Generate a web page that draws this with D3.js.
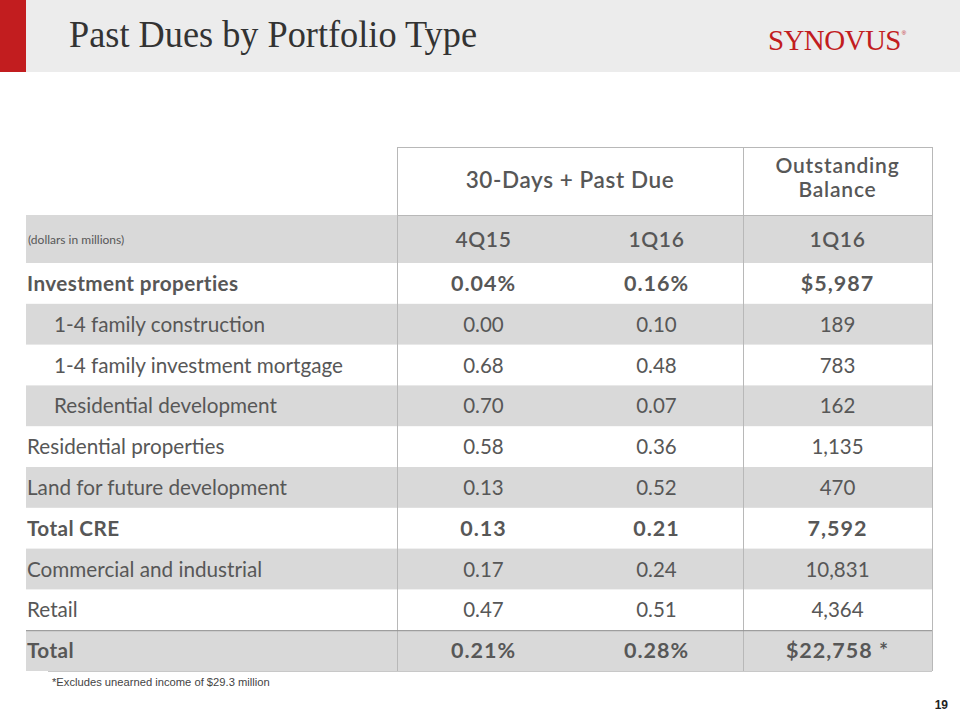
<!DOCTYPE html>
<html>
<head>
<meta charset="utf-8">
<script src="https://cdn.jsdelivr.net/npm/d3@7"></script>
<style>
  html, body { margin: 0; padding: 0; background: #fff; }
  svg { display: block; }
</style>
</head>
<body>
<div id="chart"></div>
<script>
// ---------- data ----------
const title = "Past Dues by Portfolio Type";
const groupHeaders = ["30-Days + Past Due", "Outstanding Balance"];
const periodLabels = ["4Q15", "1Q16", "1Q16"];
const unitsNote = "(dollars in millions)";
const categories = [
  "Investment properties",
  "1-4 family construction",
  "1-4 family investment mortgage",
  "Residential development",
  "Residential properties",
  "Land for future development",
  "Total CRE",
  "Commercial and industrial",
  "Retail",
  "Total"
];
const pastDue4Q15 = [0.04, 0.00, 0.68, 0.70, 0.58, 0.13, 0.13, 0.17, 0.47, 0.21];
const pastDue1Q16 = [0.16, 0.10, 0.48, 0.07, 0.36, 0.52, 0.21, 0.24, 0.51, 0.28];
const balance1Q16 = [5987, 189, 783, 162, 1135, 470, 7592, 10831, 4364, 22758];
const boldRows = ["Investment properties", "Total CRE", "Total"];
const indentedRows = ["1-4 family construction", "1-4 family investment mortgage", "Residential development"];
const shadedRows = ["1-4 family construction", "Residential development", "Land for future development", "Commercial and industrial", "Total"];
const percentRows = ["Investment properties", "Total"];
const footnote = "*Excludes unearned income of $29.3 million";
const pageNumber = "19";

// ---------- layout ----------
const W = 960, H = 720;
const svg = d3.select("#chart").append("svg").attr("width", W).attr("height", H);

const textCol = "#575757";
const gridCol = "#b8b8b8";
const shade = "#d9d9d9";
const sans = "Lato, 'Open Sans', sans-serif";

// header band
svg.append("rect").attr("x", 0).attr("y", 0).attr("width", W).attr("height", 72).attr("fill", "#ececec");
svg.append("rect").attr("x", 0).attr("y", 0).attr("width", 26).attr("height", 72).attr("fill", "#c21d1f");
svg.append("text").attr("x", 69).attr("y", 47)
  .attr("font-family", "'Liberation Serif', 'DejaVu Serif', serif")
  .attr("font-size", 37).attr("fill", "#333")
  .attr("textLength", 408).attr("lengthAdjust", "spacingAndGlyphs")
  .text(title);
const logo = svg.append("text").attr("x", 768).attr("y", 50)
  .attr("font-family", "'Liberation Serif', serif")
  .attr("font-size", 29).attr("fill", "#c21d1f");
logo.append("tspan").attr("letter-spacing", -0.6).text("SYNOVUS");
logo.append("tspan").attr("font-size", 6).attr("dx", 1).attr("dy", -15)
  .attr("font-family", "Arial, sans-serif").text("®");

// scales
const tableLeft = 26, tableRight = 932;
const valueCols = ["4Q15", "1Q16", "bal"];
const band = d3.scaleBand().domain(["4Q15", "1Q16"]).range([397, 743]);
const cx = c => c === "bal" ? (743 + tableRight) / 2 : band(c) + band.bandwidth() / 2;

const y = d3.scaleBand().domain(categories).range([263, 671]);

const headerTop = 147, headerBottom = 215, subBottom = 263;

svg.append("rect").attr("x", tableLeft).attr("y", headerBottom)
  .attr("width", tableRight - tableLeft).attr("height", subBottom - headerBottom).attr("fill", shade);

svg.selectAll("rect.row").data(categories.filter(c => shadedRows.includes(c))).join("rect")
  .attr("class", "row")
  .attr("x", tableLeft).attr("y", d => y(d))
  .attr("width", tableRight - tableLeft).attr("height", y.bandwidth())
  .attr("fill", shade);

// grid lines
const g = svg.append("g").attr("stroke", gridCol).attr("stroke-width", 1).attr("fill", "none");
g.append("line").attr("x1", 397).attr("x2", tableRight).attr("y1", headerTop + 0.5).attr("y2", headerTop + 0.5);
g.append("line").attr("x1", 397).attr("x2", tableRight).attr("y1", headerBottom + 0.5).attr("y2", headerBottom + 0.5);
[397, 743, tableRight].forEach(x => {
  g.append("line").attr("x1", x + 0.5).attr("x2", x + 0.5).attr("y1", headerTop).attr("y2", 671);
});
g.append("line").attr("x1", tableLeft).attr("x2", tableRight)
  .attr("y1", y("Total") + 0.5).attr("y2", y("Total") + 0.5).attr("stroke", "#8f8f8f");
g.append("line").attr("x1", 48).attr("x2", tableRight)
  .attr("y1", 671.5).attr("y2", 671.5).attr("stroke", "#c8c8c8");

// group headers
svg.append("text").attr("x", (397 + 743) / 2).attr("y", 188).attr("text-anchor", "middle")
  .attr("font-family", sans).attr("font-weight", 600).attr("font-size", 22.5)
  .attr("letter-spacing", 0.6).attr("fill", textCol)
  .text(groupHeaders[0]);
const ob = svg.append("text").attr("text-anchor", "middle")
  .attr("font-family", sans).attr("font-weight", 600).attr("font-size", 21)
  .attr("letter-spacing", 0.8).attr("fill", textCol);
ob.selectAll("tspan").data(groupHeaders[1].split(" ")).join("tspan")
  .attr("x", (743 + tableRight) / 2).attr("y", (d, i) => 173 + i * 24).text(d => d);

// subheader
svg.append("text").attr("x", 28).attr("y", 244)
  .attr("font-family", sans).attr("font-size", 12).attr("fill", textCol).text(unitsNote);
svg.selectAll("text.period").data(valueCols).join("text")
  .attr("class", "period")
  .attr("x", d => cx(d)).attr("y", 247).attr("text-anchor", "middle")
  .attr("font-family", sans).attr("font-weight", 600).attr("font-size", 21)
  .attr("letter-spacing", 0.6).attr("fill", textCol)
  .text((d, i) => periodLabels[i]);

// rows
const fmt2 = d3.format(".2f");
const fmtC = d3.format(",");
const rows = categories.map((c, i) => ({
  c,
  bold: boldRows.includes(c),
  vals: [
    fmt2(pastDue4Q15[i]) + (percentRows.includes(c) ? "%" : ""),
    fmt2(pastDue1Q16[i]) + (percentRows.includes(c) ? "%" : ""),
    (percentRows.includes(c) ? "$" : "") + fmtC(balance1Q16[i]) + (c === "Total" ? " *" : "")
  ]
}));

svg.selectAll("text.label").data(rows).join("text")
  .attr("class", "label")
  .attr("x", d => indentedRows.includes(d.c) ? 54 : 27)
  .attr("y", d => y(d.c) + y.bandwidth() / 2 + 7.5)
  .attr("font-family", sans).attr("font-size", 20.7)
  .attr("font-weight", d => d.bold ? 700 : 400)
  .attr("letter-spacing", d => d.bold ? 0.4 : 0)
  .attr("fill", textCol)
  .text(d => d.c);

valueCols.forEach((col, k) => {
  svg.selectAll("text.v" + k).data(rows).join("text")
    .attr("class", "v" + k)
    .attr("x", cx(col))
    .attr("y", d => y(d.c) + y.bandwidth() / 2 + 7.5)
    .attr("text-anchor", "middle")
    .attr("font-family", sans)
    .attr("font-size", d => d.bold ? 21.5 : 20.5)
    .attr("font-weight", d => d.bold ? 700 : 400)
    .attr("letter-spacing", d => d.bold ? 1.0 : 0)
    .attr("fill", textCol)
    .text(d => d.vals[k]);
});

// footnote & page number
svg.append("text").attr("x", 52).attr("y", 686)
  .attr("font-family", "'Liberation Sans', Arial, sans-serif").attr("font-size", 11.2).attr("fill", "#444")
  .text(footnote);
svg.append("text").attr("x", 948).attr("y", 709).attr("text-anchor", "end")
  .attr("font-family", "'Liberation Sans', Arial, sans-serif").attr("font-weight", 700)
  .attr("font-size", 12).attr("fill", "#222").text(pageNumber);
</script>
</body>
</html>
